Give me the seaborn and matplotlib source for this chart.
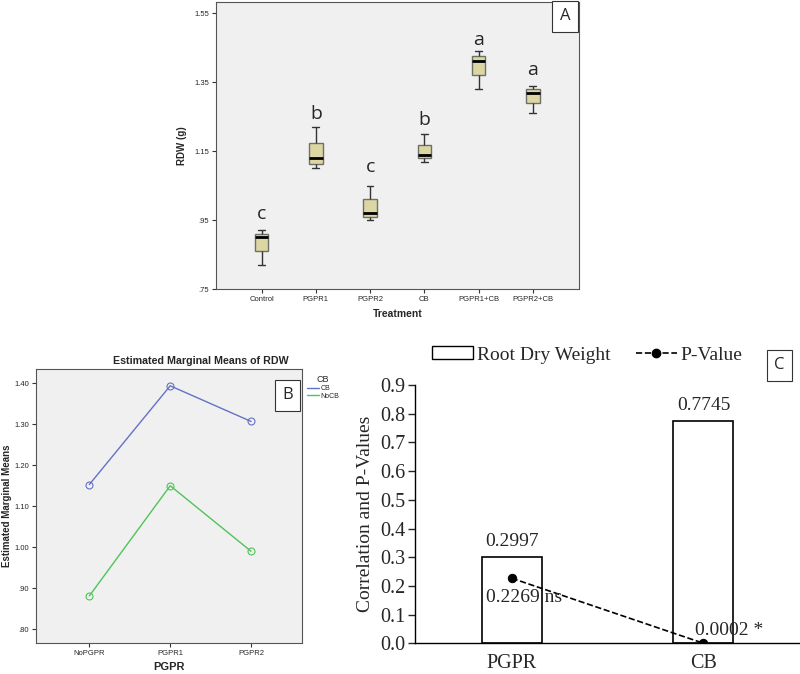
import numpy as np
import pandas as pd
import matplotlib
matplotlib.use("Agg")
import matplotlib.pyplot as plt
from matplotlib.patches import Rectangle
from matplotlib.lines import Line2D
import seaborn as sns

# ----------------------------------------------------------------
# Data
# ----------------------------------------------------------------
treatments = ["Control", "PGPR1", "PGPR2", "CB", "PGPR1+CB", "PGPR2+CB"]
# five values per treatment: min, q1, median, q3, max
rdw_control = [0.821, 0.860, 0.900, 0.911, 0.920]
rdw_pgpr1 = [1.101, 1.114, 1.131, 1.175, 1.221]
rdw_pgpr2 = [0.950, 0.959, 0.971, 1.010, 1.050]
rdw_cb = [1.120, 1.131, 1.140, 1.169, 1.200]
rdw_pgpr1_cb = [1.330, 1.370, 1.411, 1.426, 1.441]
rdw_pgpr2_cb = [1.260, 1.290, 1.320, 1.331, 1.340]
letters = ["c", "b", "c", "b", "a", "a"]
letter_y = [0.969, 1.259, 1.104, 1.242, 1.473, 1.385]

pgpr_levels = ["NoPGPR", "PGPR1", "PGPR2"]
emm_cb = [1.153, 1.394, 1.307]
emm_nocb = [0.881, 1.150, 0.990]

corr_groups = ["PGPR", "CB"]
corr_values = [0.2997, 0.7745]
p_values = [0.2269, 0.0002]
p_labels = ["0.2269 ns", "0.0002 *"]

# ----------------------------------------------------------------
# Build tidy frames
# ----------------------------------------------------------------
rdw_all = [rdw_control, rdw_pgpr1, rdw_pgpr2, rdw_cb, rdw_pgpr1_cb, rdw_pgpr2_cb]
df_box = pd.DataFrame({
    "Treatment": np.repeat(treatments, 5),
    "RDW": np.concatenate(rdw_all),
})
df_emm = pd.DataFrame({
    "PGPR": pgpr_levels * 2,
    "EMM": emm_cb + emm_nocb,
    "CB": ["CB"] * 3 + ["NoCB"] * 3,
})
df_corr = pd.DataFrame({"Group": corr_groups, "r": corr_values, "p": p_values})

sns.set_style("white")
plt.rcParams["font.family"] = ["Liberation Sans", "DejaVu Sans"]

fig = plt.figure(figsize=(8, 6.74), dpi=100)

# ----------------------------------------------------------------
# Panel A: boxplot
# ----------------------------------------------------------------
axA = fig.add_axes([0.27, 0.5712, 0.45375, 0.4258])
axA.set_facecolor("#f0f0f0")
sns.boxplot(data=df_box, x="Treatment", y="RDW", order=treatments, ax=axA,
            width=0.25, whis=(0, 100), color="#dcd6a4", saturation=1,
            linecolor="#6f6f66", linewidth=1.0,
            medianprops=dict(color="black", linewidth=2),
            capprops=dict(color="#333333"), whiskerprops=dict(color="#333333"))
for i, (lt, ly) in enumerate(zip(letters, letter_y)):
    axA.text(i, ly, lt, ha="center", va="center", fontsize=14, family="Open Sans")
axA.set_xlim(-0.84, 5.85)
axA.set_ylim(0.75, 1.583)
axA.set_yticks([0.75, 0.95, 1.15, 1.35, 1.55])
axA.set_yticklabels([".75", ".95", "1.15", "1.35", "1.55"])
axA.tick_params(axis="both", labelsize=5.5, length=3, direction="out", color="#333333",
                left=True, bottom=True, pad=2)
axA.set_xlabel("Treatment", fontsize=7.5, fontweight="bold")
axA.set_ylabel("RDW (g)", fontsize=7, fontweight="bold")
axA.yaxis.set_label_coords(-0.08, 0.5)
for s in axA.spines.values():
    s.set_color("#555555")
    s.set_linewidth(0.8)
axA.text(0.962, 0.951, "A", transform=axA.transAxes, ha="center", va="center",
         fontsize=12, family="Open Sans",
         bbox=dict(boxstyle="square,pad=0.45", fc="white", ec="#333333", lw=0.8))

# ----------------------------------------------------------------
# Panel B: estimated marginal means
# ----------------------------------------------------------------
axB = fig.add_axes([0.045, 0.046, 0.3325, 0.4065])
axB.set_facecolor("#f0f0f0")
sns.lineplot(data=df_emm, x="PGPR", y="EMM", hue="CB", sort=False, ax=axB,
             palette={"CB": "#6471c8", "NoCB": "#4fc45a"}, linewidth=1,
             marker="o", markersize=5, markerfacecolor="none",
             markeredgewidth=0.8, legend=False)
# open circles take the line colour
for line, c in zip(axB.get_lines(), ["#6471c8", "#4fc45a"]):
    line.set_markeredgecolor(c)
axB.set_xlim(-0.66, 2.63)
axB.set_ylim(0.766, 1.435)
axB.set_yticks([0.8, 0.9, 1.0, 1.1, 1.2, 1.3, 1.4])
axB.set_yticklabels([".80", ".90", "1.00", "1.10", "1.20", "1.30", "1.40"])
axB.tick_params(axis="both", labelsize=5.5, length=3, direction="out", color="#333333",
                left=True, bottom=True, pad=2)
axB.set_xlabel("PGPR", fontsize=8, fontweight="bold")
axB.set_ylabel("Estimated Marginal Means", fontsize=7, fontweight="bold")
axB.yaxis.set_label_coords(-0.092, 0.5)
for s in axB.spines.values():
    s.set_color("#555555")
    s.set_linewidth(0.8)
fig.text(201 / 800, 1 - 361 / 674, "Estimated Marginal Means of RDW", ha="center",
         va="center", fontsize=7.7, fontweight="bold")
axB.text(0.946, 0.904, "B", transform=axB.transAxes, ha="center", va="center",
         fontsize=12, family="Open Sans",
         bbox=dict(boxstyle="square,pad=0.45", fc="white", ec="#333333", lw=0.8))
handles_b = [Line2D([0], [0], color="#6471c8", lw=1), Line2D([0], [0], color="#4fc45a", lw=1)]
fig.legend(handles_b, ["CB", "NoCB"], title="CB", loc="upper left",
           bbox_to_anchor=(0.379, 1 - 372 / 674), frameon=False, fontsize=5,
           title_fontsize=6.5, handlelength=1.8, handletextpad=0.15, labelspacing=0.1,
           borderpad=0, alignment="center")

# ----------------------------------------------------------------
# Panel C: correlation bars and p-values
# ----------------------------------------------------------------
axC = fig.add_axes([0.51875, 0.0455, 0.48, 0.3832])
sns.barplot(data=df_corr, x="Group", y="r", ax=axC, width=0.313,
            color="white", edgecolor="black", linewidth=1.2, saturation=1)
sns.lineplot(data=df_corr, x="Group", y="p", ax=axC, color="black", linestyle="--",
             linewidth=1.2, marker="o", markersize=6, markeredgecolor="black",
             sort=False)
for i, v in enumerate(corr_values):
    axC.text(i, v + 0.055, f"{v:.4f}", ha="center", va="center",
             fontsize=14, family="Liberation Serif")
axC.text(0.065, 0.158, p_labels[0], ha="center", va="center", fontsize=14,
         family="Liberation Serif")
axC.text(1.133, 0.045, p_labels[1], ha="center", va="center", fontsize=14,
         family="Liberation Serif")
axC.set_xlim(-0.504, 1.498)
axC.set_ylim(0, 0.9)
axC.set_yticks(np.arange(0, 0.91, 0.1))
axC.set_yticklabels([f"{t:.1f}" for t in np.arange(0, 0.91, 0.1)],
                    family="Liberation Serif")
axC.set_xticks([0, 1])
axC.set_xticklabels(corr_groups, family="Liberation Serif")
axC.tick_params(axis="y", labelsize=14.5, length=5, direction="out", width=1, left=True,
                pad=2)
axC.tick_params(axis="x", labelsize=14.5, length=0, pad=8)
axC.set_xlabel("")
axC.set_ylabel("Correlation and P-Values", fontsize=14, family="Liberation Serif")
axC.spines["top"].set_visible(False)
axC.spines["right"].set_visible(False)
for s in ["left", "bottom"]:
    axC.spines[s].set_color("black")
    axC.spines[s].set_linewidth(1)
handles_c = [Rectangle((0, 0), 1, 1, fc="white", ec="black", lw=1),
             Line2D([0], [0], color="black", ls="--", lw=1.2, marker="o", markersize=6)]
fig.legend(handles_c, ["Root Dry Weight", "P-Value"], loc="center left",
           bbox_to_anchor=(0.528, 1 - 355 / 674), ncol=2, frameon=False,
           prop={"family": "Liberation Serif", "size": 14}, handlelength=2.1,
           handleheight=0.6, handletextpad=0.2, columnspacing=1.3, borderpad=0)
fig.text(779.5 / 800, 1 - 365 / 674, "C", ha="center", va="center", fontsize=12,
         family="Open Sans",
         bbox=dict(boxstyle="square,pad=0.45", fc="white", ec="#333333", lw=0.8))

fig.savefig("out.png", dpi=100)
